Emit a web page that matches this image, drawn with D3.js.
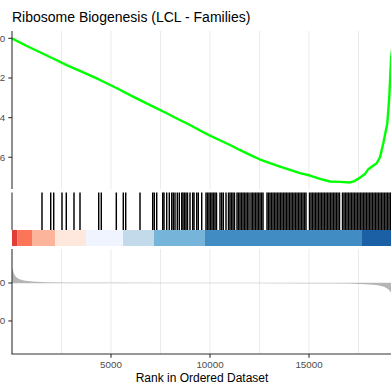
<!DOCTYPE html>
<html>
<head>
<meta charset="utf-8">
<script src="https://cdn.jsdelivr.net/npm/d3@7/dist/d3.min.js"></script>
<style>
body { margin: 0; background: #fff; }
svg { display: block; font-family: "Liberation Sans", Arial, sans-serif; }
</style>
</head>
<body>
<svg id="chart" width="391" height="388"></svg>
<script>
// chart text
var title = "Ribosome Biogenesis (LCL - Families)";
var xLabel = "Rank in Ordered Dataset";
var xTicks = [5000, 10000, 15000];
var gridRanks = [2500, 5000, 7500, 10000, 12500, 15000, 17500];
var esTicks = [0, -0.2, -0.4, -0.6];
var esTickLabels = ["0.0", "-0.2", "-0.4", "-0.6"];
var metricTicks = [0, -10];
var metricTickLabels = ["0", "-10"];

// running enrichment score
var esRank = [0, 700, 1414, 2100, 2763, 3600, 4444, 5300, 6111, 7000, 7813, 8400, 8990, 9500,
    10000, 10500, 11010, 11500, 12020, 12500, 13030, 13500, 14040, 14545, 15050, 15556, 16061,
    16566, 17071, 17300, 17475, 17650, 17828, 17995, 18200, 18419, 18586, 18752, 18955, 19056,
    19141, 19250];
var esValue = [0, -0.036, -0.070, -0.103, -0.135, -0.172, -0.210, -0.252, -0.294, -0.338, -0.378,
    -0.408, -0.437, -0.465, -0.491, -0.514, -0.538, -0.563, -0.588, -0.610, -0.630, -0.646, -0.663,
    -0.680, -0.692, -0.709, -0.722, -0.724, -0.727, -0.720, -0.709, -0.697, -0.684, -0.660, -0.645,
    -0.630, -0.600, -0.529, -0.428, -0.294, -0.109, 0];

// positions of the gene set members in the ranked list
var hitRanks = [1515, 1955, 2106, 2525, 2742, 3131, 3434, 4379, 4510, 5268, 5621, 5742, 6465,
    7106, 7187, 7308, 7611, 7677, 7813, 7944, 8066, 8146, 8232, 8348, 8449, 8571, 8636, 8712,
    8788, 8864, 8990, 9126, 9192, 9328, 9409, 9581, 9798, 9874, 9949, 10025, 10101, 10177, 10253,
    10328, 10505, 10591, 10672, 10808, 10934, 11010, 11086, 11162, 11237, 11364, 11439, 11515,
    11591, 11667, 11742, 11818, 11894, 11970, 12071, 12146, 12222, 12298, 12374, 12449, 12525,
    12601, 12677, 12879, 12955, 13030, 13106, 13182, 13258, 13333, 13409, 13485, 13561, 13636,
    13712, 13788, 13864, 13939, 14015, 14091, 14167, 14242, 14318, 14394, 14470, 14545, 14621,
    14697, 14773, 14848, 15025, 15101, 15177, 15253, 15328, 15404, 15480, 15556, 15631, 15707,
    15783, 15859, 15934, 16010, 16086, 16162, 16237, 16313, 16389, 16465, 16540, 16692, 16768,
    16843, 16919, 16995, 17071, 17146, 17222, 17298, 17374, 17449, 17525, 17601, 17677, 17753,
    17828, 17904, 17980, 18056, 18131, 18207, 18283, 18359, 18434, 18510, 18586, 18662, 18737,
    18813, 18889, 18965, 19040, 19116];

// ranked list metric
var metricRank = [0, 50, 100, 200, 350, 600, 1000, 1700, 2900, 5000, 8000, 12000, 15000, 16061,
    17071, 17576, 18081, 18485, 18788, 18990, 19091, 19141, 19250];
var metricValue = [3.95, 3.2, 2.4, 1.6, 1.05, 0.66, 0.39, 0.18, 0.08, 0.03, 0.01, -0.01, -0.04,
    -0.08, -0.15, -0.25, -0.4, -0.6, -1.0, -1.6, -2.2, -2.6, -4];

// colour bar under the hits
var barStarts = [0, 268, 1010, 2172, 3737, 5606, 7172, 9747, 17677];
var barEnds = [268, 1010, 2172, 3737, 5606, 7172, 9747, 17677, 19300];
var barColors = ["#DE2D26", "#FB6A4A", "#FCAE91", "#FEE5D9", "#EFF3FF", "#BDD7E7", "#6BAED6",
    "#3182BD", "#08519C"];

var svg = d3.select("#chart");

var x = d3.scaleLinear().domain([0, 19141]).range([12, 391]);
var yES = d3.scaleLinear().domain([0.037, -0.76]).range([31, 189]);
var yMetric = d3.scaleLinear().domain([8.95, -18.7]).range([249, 354]);
var hitTop = 192.5, hitBottom = 230, barBottom = 246;

var axisColor = "#333333";
var textColor = "#4d4d4d";

// title
svg.append("text")
    .attr("x", 12).attr("y", 21.7)
    .attr("font-size", 14).attr("fill", "#000")
    .text(title);

// grid lines, top and bottom panel
function grid(y0, y1) {
    svg.append("g").selectAll("line")
        .data(gridRanks)
        .enter().append("line")
            .attr("x1", d => x(d)).attr("x2", d => x(d))
            .attr("y1", y0).attr("y2", y1)
            .attr("stroke", "#ebebeb").attr("stroke-width", 1);
}
grid(yES.range()[0], yES.range()[1]);
grid(yMetric.range()[0], yMetric.range()[1]);

// running ES line
var esLine = d3.line()
    .x((d, i) => x(esRank[i]))
    .y(d => yES(d));
svg.append("path")
    .datum(esValue)
    .attr("d", esLine)
    .attr("fill", "none")
    .attr("stroke", "#00ff00")
    .attr("stroke-width", 2.4)
    .attr("stroke-linejoin", "round");

// top y axis
svg.append("line")
    .attr("x1", 12).attr("x2", 12)
    .attr("y1", yES.range()[0]).attr("y2", yES.range()[1])
    .attr("stroke", axisColor).attr("stroke-width", 1.1);
var esAxis = svg.append("g");
esAxis.selectAll("line")
    .data(esTicks)
    .enter().append("line")
        .attr("x1", 8.3).attr("x2", 12)
        .attr("y1", d => yES(d)).attr("y2", d => yES(d))
        .attr("stroke", axisColor).attr("stroke-width", 1.1);
esAxis.selectAll("text")
    .data(esTicks)
    .enter().append("text")
        .attr("x", 5.2).attr("y", d => yES(d))
        .attr("dy", "0.35em")
        .attr("text-anchor", "end")
        .attr("font-size", 9.8).attr("fill", textColor)
        .text((d, i) => esTickLabels[i]);

// hits
svg.append("g").selectAll("line")
    .data(hitRanks)
    .enter().append("line")
        .attr("x1", d => x(d)).attr("x2", d => x(d))
        .attr("y1", hitTop).attr("y2", hitBottom)
        .attr("stroke", "#000").attr("stroke-width", 1.45);

svg.append("line")
    .attr("x1", 12).attr("x2", 12)
    .attr("y1", hitTop).attr("y2", hitBottom)
    .attr("stroke", axisColor).attr("stroke-width", 1.1);

// colour bar
svg.append("g").selectAll("rect")
    .data(barColors)
    .enter().append("rect")
        .attr("x", (d, i) => x(barStarts[i]))
        .attr("width", (d, i) => x(barEnds[i]) - x(barStarts[i]))
        .attr("y", hitBottom)
        .attr("height", barBottom - hitBottom)
        .attr("fill", d => d)
        .attr("fill-opacity", 0.92);

// ranked metric
svg.append("line")
    .attr("x1", x(0)).attr("x2", x(19300))
    .attr("y1", yMetric(0)).attr("y2", yMetric(0))
    .attr("stroke", "#dedede").attr("stroke-width", 1.2);
var metricArea = d3.area()
    .x((d, i) => x(metricRank[i]))
    .y0(yMetric(0))
    .y1(d => yMetric(d));
svg.append("path")
    .datum(metricValue)
    .attr("d", metricArea)
    .attr("fill", "#b5b5b5");

// bottom axes
svg.append("line")
    .attr("x1", 12).attr("x2", 12)
    .attr("y1", yMetric.range()[0]).attr("y2", yMetric.range()[1])
    .attr("stroke", axisColor).attr("stroke-width", 1.1);
svg.append("line")
    .attr("x1", 11.45).attr("x2", 391)
    .attr("y1", yMetric.range()[1]).attr("y2", yMetric.range()[1])
    .attr("stroke", axisColor).attr("stroke-width", 1.1);

var metricAxis = svg.append("g");
metricAxis.selectAll("line")
    .data(metricTicks)
    .enter().append("line")
        .attr("x1", 8.3).attr("x2", 12)
        .attr("y1", d => yMetric(d)).attr("y2", d => yMetric(d))
        .attr("stroke", axisColor).attr("stroke-width", 1.1);
metricAxis.selectAll("text")
    .data(metricTicks)
    .enter().append("text")
        .attr("x", 5.2).attr("y", d => yMetric(d))
        .attr("dy", "0.35em")
        .attr("text-anchor", "end")
        .attr("font-size", 9.8).attr("fill", textColor)
        .text((d, i) => metricTickLabels[i]);

var xAxis = svg.append("g");
xAxis.selectAll("line")
    .data(xTicks)
    .enter().append("line")
        .attr("x1", d => x(d)).attr("x2", d => x(d))
        .attr("y1", 354).attr("y2", 357.7)
        .attr("stroke", axisColor).attr("stroke-width", 1.1);
xAxis.selectAll("text")
    .data(xTicks)
    .enter().append("text")
        .attr("x", d => x(d)).attr("y", 368.2)
        .attr("text-anchor", "middle")
        .attr("font-size", 9.8).attr("fill", textColor)
        .text(d => d);

svg.append("text")
    .attr("x", 202).attr("y", 382.3)
    .attr("text-anchor", "middle")
    .attr("font-size", 12).attr("fill", "#000")
    .text(xLabel);
</script>
</body>
</html>
